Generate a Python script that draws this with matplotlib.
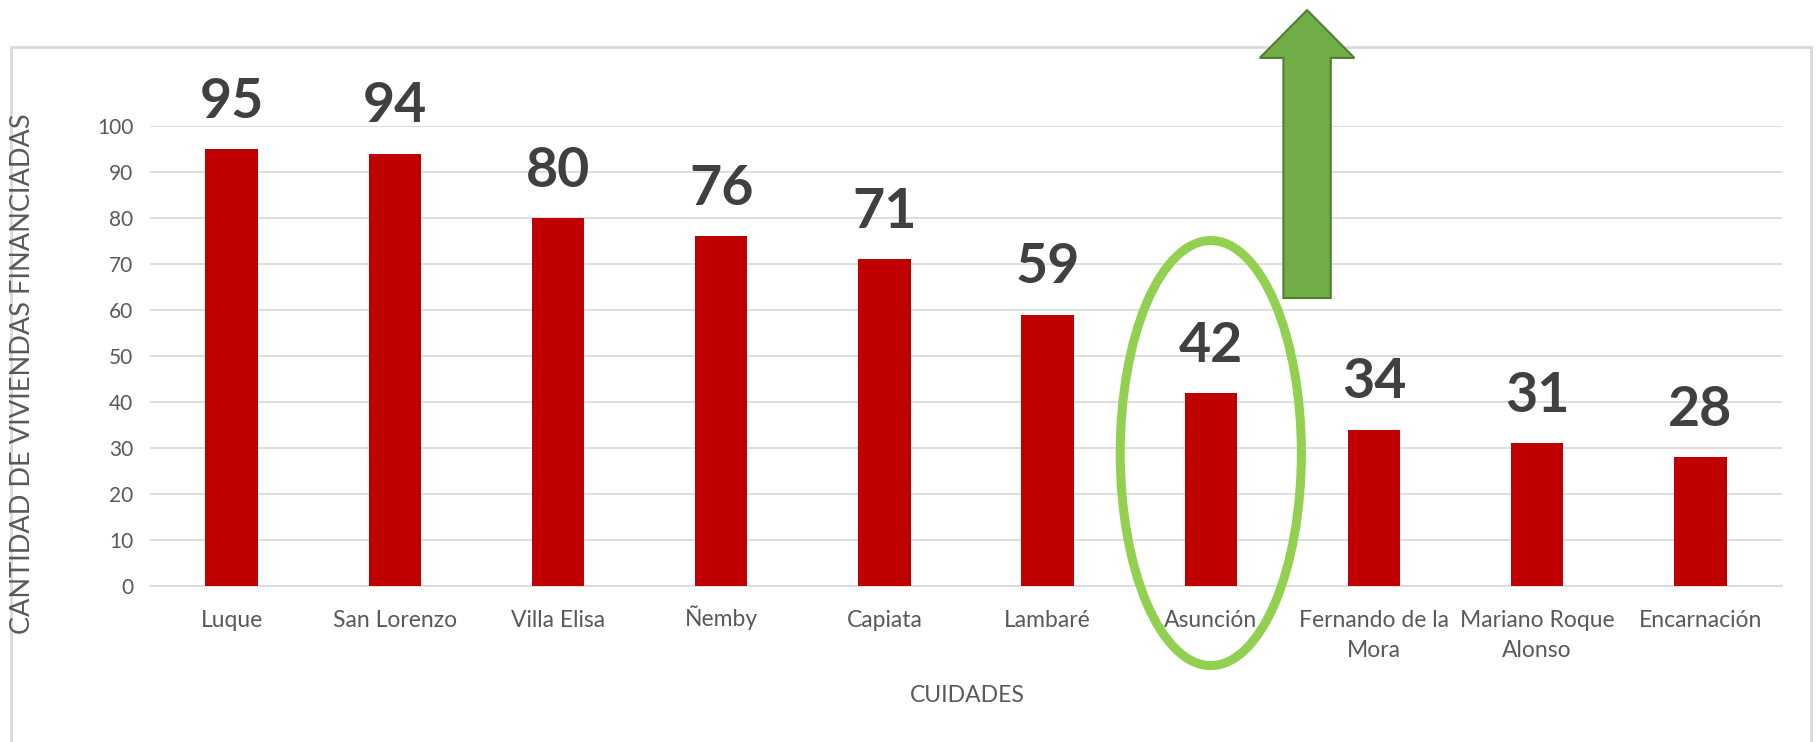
import numpy as np
import matplotlib
matplotlib.use("Agg")
import matplotlib.pyplot as plt
import matplotlib.transforms as mtransforms
from matplotlib.patches import Ellipse, Polygon, Rectangle

plt.rcParams['font.family'] = ['Lato', 'DejaVu Sans']

ciudades = ['Luque', 'San Lorenzo', 'Villa Elisa', 'Ñemby', 'Capiata', 'Lambaré',
            'Asunción', 'Fernando de la\nMora', 'Mariano Roque\nAlonso', 'Encarnación']
viviendas = [95, 94, 80, 76, 71, 59, 42, 34, 31, 28]
yticks = [0, 10, 20, 30, 40, 50, 60, 70, 80, 90, 100]

bar_color = '#C00000'
grid_color = '#D9D9D9'
tick_color = '#595959'
label_color = '#404040'

fig = plt.figure(figsize=(18.16, 7.42), dpi=100)
ax = fig.add_axes([150/1816, 1-586/742, (1782-150)/1816, (586-126)/742])

x = np.arange(len(ciudades))
bars = ax.bar(x, viviendas, width=0.32, color=bar_color, zorder=3)
for xi, v in zip(x, viviendas):
  ax.annotate(str(v), (xi, v), xytext=(0, 16), textcoords='offset points',
              ha='center', va='bottom', fontsize=40, fontweight='bold', color=label_color)

ax.set_xlim(-0.5, len(ciudades)-0.5)
ax.set_ylim(0, 100)
ax.set_yticks(yticks)
ax.set_xticks(x)
ax.set_xticklabels(ciudades, linespacing=1.58)
ax.tick_params(axis='both', length=0, labelcolor=tick_color)
ax.tick_params(axis='y', pad=12, labelsize=15)
ax.tick_params(axis='x', pad=17, labelsize=16.5)
# the tilde on Ñ makes the label box taller, nudge it back up to the same baseline
for lbl in ax.get_xticklabels():
  if lbl.get_text().startswith('Ñ'):
    lbl.set_transform(lbl.get_transform() + mtransforms.ScaledTranslation(0, 4/100, fig.dpi_scale_trans))
ax.yaxis.grid(True, color=grid_color, linewidth=1.2, zorder=0)
for sp in ['top', 'right', 'left']:
  ax.spines[sp].set_visible(False)
ax.spines['bottom'].set_color(grid_color)
ax.spines['bottom'].set_linewidth(1.2)

fig.text(967/1816, 1-695/742, 'CUIDADES', ha='center', va='center', fontsize=16.5, color=tick_color)
fig.text(23/1816, 1-374/742, 'CANTIDAD DE VIVIENDAS FINANCIADAS', ha='center', va='center',
         rotation=90, fontsize=19.5, color=tick_color)

# green ellipse around Asuncion
ell = Ellipse((6, 28.9), width=1.11, height=92.4, fill=False, edgecolor='#92D050',
              linewidth=6.5, clip_on=False, zorder=5)
ax.add_patch(ell)

# green arrow pointing up
ac, sw, hw = 6.59, 0.145, 0.29
y_bot, y_head, y_tip = 62.6, 114.8, 125.2
pts = [(ac-sw, y_bot), (ac+sw, y_bot), (ac+sw, y_head), (ac+hw, y_head), (ac, y_tip),
       (ac-hw, y_head), (ac-sw, y_head)]
ax.add_patch(Polygon(pts, closed=True, facecolor='#70AD47', edgecolor='#507E32',
                     linewidth=1.5, clip_on=False, zorder=6))

# chart border, drawn under the axes
fig.patches.append(Rectangle((11/1816, -0.05), (1811-11)/1816, 1-47/742+0.05,
                             transform=fig.transFigure, fill=False, edgecolor=grid_color,
                             linewidth=2, zorder=-1))

plt.savefig('out.png', dpi=100)
